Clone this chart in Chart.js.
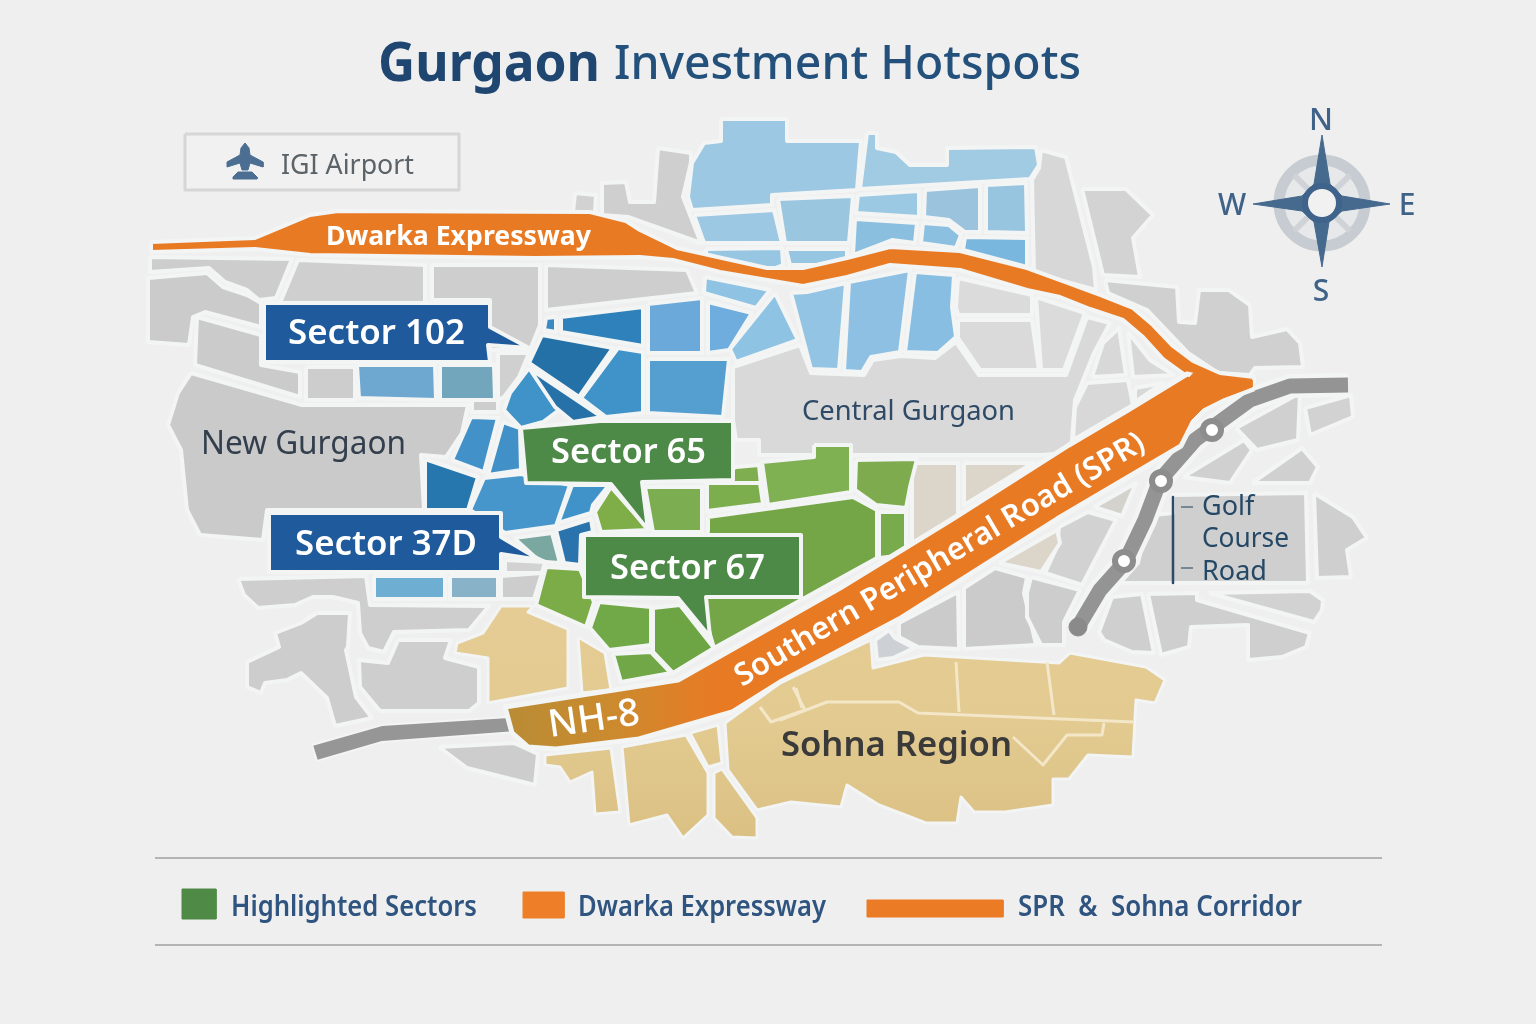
<!DOCTYPE html>
<html>
<head>
<meta charset="utf-8">
<title>Gurgaon Investment Hotspots</title>
<script src="https://cdn.jsdelivr.net/npm/chart.js@4"></script>
<style>
  html, body { margin: 0; padding: 0; background: #efefef; }
  canvas { display: block; }
</style>
</head>
<body>
<canvas id="mapChart" width="1536" height="1024"></canvas>
<script>
// map outlines, flat x,y lists
const greyBlocks = [
  [150,257,292,259,276,298,259,300,247,290,225,282,209,268,150,272],
  [148,278,207,273,223,287,247,295,261,303,261,327,205,312,193,317,189,345,148,342],
  [280,303,298,260,425,265,425,303],
  [432,265,540,265,540,325,530,350,490,350,490,300,432,300],
  [546,265,687,270,697,293,546,310],
  [197,317,261,335,261,365,300,372,300,397,195,365],
  [306,367,355,367,355,400,306,400],
  [191,373,302,405,468,405,462,433,446,457,421,455,424,510,267,510,263,540,200,535,187,510,181,450,168,425,178,393],
  [472,400,498,400,498,412,472,412],
  [498,353,529,353,519,377,504,397,498,400],
  [658,148,691,153,691,162,683,197,701,243,628,217,602,215,602,183,626,182,630,202,654,202],
  [575,193,596,195,595,213,573,212],
  [1041,150,1066,157,1094,267,1096,290,1034,273,1032,180,1039,168],
  [1082,189,1126,189,1153,215,1133,238,1140,277,1103,275],
  [1105,280,1177,287,1179,322,1195,323,1199,290,1229,290,1250,305,1252,337,1287,329,1300,343,1303,367,1255,368,1250,375,1218,373,1188,353,1147,310,1108,293],
  [958,278,1032,295,1032,315,958,315,956,307],
  [1036,297,1085,313,1064,370,1041,370],
  [958,320,1032,320,1039,370,980,370,958,338],
  [733,367,800,345,811,373,864,375,873,360,901,356,935,358,956,342,979,375,1066,375,1087,317,1110,323,1094,353,1075,400,1071,453,1041,455,759,455,759,440,736,440,733,420],
  [1092,377,1126,375,1119,328,1103,343],
  [1128,332,1150,360,1174,375,1133,377],
  [1087,383,1128,380,1133,405,1073,440,1075,407],
  [1135,388,1163,383,1135,402],
  [501,576,542,573,534,599,501,599],
  [505,560,545,562,542,573,505,573],
  [899,623,958,592,959,649,918,647,899,637],
  [964,588,995,568,1027,577,1024,593,1036,645,964,649],
  [1031,577,1080,590,1064,622,1064,645,1041,645,1027,617,1027,593],
  [1059,527,1088,512,1116,520,1082,585,1045,573,1057,547],
  [1094,507,1136,483,1122,516],
  [875,640,889,630,895,638,914,648,893,658,877,660],
  [1153,515,1173,513,1173,495,1306,493,1308,583,1120,583,1138,563,1146,527],
  [1314,493,1353,517,1367,538,1347,550,1351,577,1317,578],
  [1112,597,1142,594,1154,653,1132,652,1104,640,1099,632],
  [1148,594,1197,593,1197,600,1310,633,1306,647,1282,657,1248,660,1248,625,1191,627,1189,647,1161,655],
  [1209,593,1310,591,1323,600,1322,610,1314,622],
  [1305,408,1351,395,1353,417,1310,435],
  [1236,428,1300,393,1298,440,1257,450],
  [1183,477,1244,440,1252,450,1230,483],
  [1252,483,1302,448,1318,467,1310,483],
  [238,579,366,576,370,605,489,606,469,630,394,632,384,652,368,648,360,633,358,603,333,597,313,597,295,605,258,608,244,595],
  [317,613,350,613,348,647,346,650,356,697,372,718,335,726,327,698,301,673,287,680,265,683,261,693,247,687,247,662,279,647,275,633,301,623],
  [398,640,451,640,445,658,479,667,479,703,469,711,380,711,360,687,359,660,388,663],
  [439,747,514,743,538,754,535,785,467,768]
];
const greyShades = [
  '#cdcdcd','#cbcbcb','#cfcfcf','#cecece','#cecece','#cbcbcb','#cdcdcd','#cacaca','#cdcdcd','#d0d0d0',
  '#cfcfcf','#d2d2d2','#d7d7d7','#d3d3d3','#d0d0d0','#dbdbdb','#dbdbdb','#dadada','#d9d9d9','#d8d8d8',
  '#d8d8d8','#d8d8d8','#d8d8d8','#cdcdcd','#d2d2d2','#cbcbcb','#cbcbcb','#cdcdcd','#d2d2d2','#d4d2cd',
  '#cdd0d4','#cfcfcf','#cfcfcf','#cfcfcf','#cfcfcf','#d2d2d2','#d2d2d2','#d0d0d0','#d0d0d0','#d0d0d0',
  '#cecece','#cdcdcd','#cecece','#cdcdcd'
];
const paleTanBlocks = [
  [912,463,958,463,958,518,912,545],
  [964,463,1033,463,964,505],
  [999,563,1057,530,1060,543,1041,572]
];
const paleBlueBlocks = [
  [721,119,787,119,787,141,861,141,857,190,772,195,772,205,692,210,688,197,692,163,704,143,721,141],
  [867,133,877,133,877,148,896,152,910,165,947,165,947,148,1036,147,1039,165,1030,179,860,189],
  [778,199,853,196,849,243,785,243],
  [858,195,919,191,919,217,856,213],
  [925,190,980,186,980,232,965,232,949,220,924,217],
  [986,185,1026,183,1027,233,986,232],
  [694,215,774,210,782,243,704,243],
  [706,249,782,248,783,265,770,270,706,257],
  [786,249,847,249,847,258,818,265,790,265],
  [855,219,917,223,915,243,892,240,853,255],
  [923,223,949,225,961,235,956,248,921,243],
  [965,237,1027,238,1027,267,963,250],
  [705,277,770,290,756,308,704,293],
  [775,293,798,340,736,362,730,349],
  [791,293,807,292,846,283,839,370,811,369],
  [849,282,910,270,900,352,871,357,862,372,844,371],
  [915,272,954,275,952,307,956,337,938,353,905,352]
];
const paleBlueShades = [
  '#9cc8e3','#a0cbe3','#9bc6e0','#9bc8e2','#9bc3de','#97c5df','#9cc8e3','#97c6e2','#97c6e2','#8abfe0',
  '#8cc0e1','#7ab7de','#8fc3e4','#8fc3e4','#93c4e3','#8dc0e2','#88bee1'
];
const blueBlocks = [
  [357,365,435,365,436,400,359,398],
  [440,365,494,365,495,400,440,400],
  [546,318,556,317,556,332,544,330],
  [561,317,643,307,643,346,561,332],
  [648,304,702,298,702,353,648,353],
  [708,302,752,313,729,350,708,353],
  [542,335,613,348,579,397,529,363],
  [618,348,643,352,643,413,606,417,581,398],
  [648,359,729,359,723,417,648,413],
  [529,368,602,417,575,422,559,410,543,422,521,428,504,410,510,393],
  [529,368,602,417,573,422,555,407],
  [471,417,498,418,484,472,452,460],
  [503,422,520,428,521,470,488,475],
  [425,459,478,477,468,510,425,510],
  [484,478,521,474,570,485,556,526,505,533,470,510],
  [572,485,609,485,593,505,591,513,558,523],
  [556,530,591,519,593,532,581,535,580,565,564,563],
  [514,538,552,533,560,563,546,562,536,558],
  [374,576,445,576,445,599,374,599],
  [450,576,498,576,498,599,450,599]
];
const blueShades = [
  '#6ea8d0','#72a6bd','#3a8bc4','#2f81bb','#6aa9d9','#6fadde','#2471a8','#4093c9','#559fd0','#3f93c8',
  '#2672a8','#4292c9','#4191c8','#2677ad','#4696cb','#3f93c8','#2b73ad','#7aa7a0','#6eaed3','#88b2c8'
];
const greenBlocks = [
  [814,445,851,445,851,492,768,505,762,462,814,457],
  [856,460,917,459,910,487,906,508,876,505,855,490],
  [736,467,759,465,763,505,708,512,706,483],
  [708,517,853,497,877,510,877,558,714,648,700,600,708,530],
  [653,608,680,605,714,648,673,673,653,652],
  [879,512,906,512,906,555,879,558],
  [595,512,611,487,649,530,601,532],
  [645,487,702,487,702,532,653,532],
  [707,483,760,483,763,504,707,511],
  [546,567,580,569,594,602,586,627,536,605],
  [599,602,651,607,651,645,609,650,590,628],
  [613,654,651,652,671,673,621,682]
];
const greenShades = [
  '#7fb051','#7dab4e','#7fae50','#74a647','#6ea544','#77ab4c','#7fae48','#7cad50','#7dae4e','#7cac48',
  '#72a948','#71a746'
];
const sandBlocks = [
  [501,606,534,606,528,612,568,629,568,688,488,703,488,658,455,653,457,643,483,633],
  [578,637,605,653,611,690,582,693],
  [545,755,611,748,620,812,595,814,592,772,570,782,560,767,545,765],
  [622,747,686,735,708,773,708,815,683,838,667,815,629,825],
  [690,733,718,725,722,763,708,767],
  [714,773,722,769,757,818,757,838,732,837,714,818],
  [725,723,780,683,871,640,873,668,924,655,1059,663,1070,653,1146,667,1165,680,1155,703,1136,700,1133,757,1088,755,1069,779,1053,779,1053,805,1005,812,974,812,961,797,957,823,926,823,879,805,847,785,841,807,791,802,757,810,728,770]
];
const sandLines = [
  [780,720,827,702,899,702,918,713,1134,722],
  [956,662,959,712],
  [1047,662,1054,715],
  [796,688,802,708],
  [1104,723,1102,735,1067,735,1043,765,1013,737],
  [760,707,771,722,805,710],
  [793,687,805,710]
];

// roads
const nh8West = [312,745,382,725,509,717,516,732,382,742,317,761];
const golfCourseRoad = [1348,385,1290,386,1250,400,1195,440,1160,480,1145,520,1125,562,1100,590,1078,627];
const golfCourseStations = [1212,430,1161,481,1124,561];
const golfCourseEnd = [1078,627];
const dwarkaExpressway = [151,242,255,238,310,215,338,211,590,212,626,221,640,230,677,248,767,268,803,268,847,258,890,247,960,251,1027,268,1060,280,1100,295,1133,308,1153,325,1173,346,1193,361,1220,373,1254,377,1254,382,1188,377,1163,359,1143,337,1123,320,1090,309,1060,297,1027,290,960,270,890,265,847,277,803,286,720,272,673,260,640,257,535,258,310,255,255,249,151,252];
const southernPeripheral = [1254,389,1224,400,1204,410,1193,422,1181,446,1057,519,899,619,780,682,732,712,639,739,556,749,528,747,512,733,505,707,678,680,840,588,954,518,1069,445,1128,410,1187,374];
const junctionPatch = [1190,377,1197,369,1220,377,1252,380,1252,387,1223,398,1203,408,1191,420,1150,425,1170,395];

// callouts
const sectorCalloutsBlue = [
  [264,303,490,303,490,327,529,348,488,345,490,362,264,362],
  [269,513,501,513,501,537,540,560,501,554,501,572,269,572]
];
const sectorCalloutsGreen = [
  [521,428,600,421,733,421,733,480,642,482,648,530,611,484,526,483],
  [584,535,801,535,801,597,706,597,710,637,678,598,584,597]
];

// compass and airport
const compassStar = [1322,135,1330,184,1342,196,1390,204,1342,211,1329,222,1322,267,1314,222,1302,211,1253,204,1302,196,1314,184];
const compassHub = [1322,203];
const compassSpokes = [[1294,175,1350,231],[1350,175,1294,231]];
const airportBox = [185,134,459,134,459,190,185,190];
const airportPlane = [
  [245,143,249,148,250,155,263,162,263,167,250,163,248,170,242,170,240,163,227,167,227,162,240,155,241,148],
  [238,172,252,172,257,177,257,179,233,179,233,177]
];

// legend and rules
const legendRules = [[155,858,1382,858],[155,945,1382,945]];
const legendGreen = [182,889,216,889,216,919,182,919];
const legendOrange = [523,892,564,892,564,918,523,918];
const legendBar = [867,900,1003,900,1003,917,867,917];
const golfBracket = [[1173,497,1173,583],[1181,507,1193,507],[1181,568,1193,568]];

const pts = flat => {
  const out = [];
  for (let i = 0; i < flat.length; i += 2) out.push({ x: flat[i], y: flat[i + 1] });
  return out;
};
const datasets = [];
function addShape(flat, fillColor, edgeColor, edgeWidth) {
  const p = pts(flat);
  p.push(p[0]);
  datasets.push({
    data: p, showLine: true, fill: 'shape', backgroundColor: fillColor,
    borderColor: edgeColor, borderWidth: edgeWidth, borderJoinStyle: 'round',
    pointRadius: 0, clip: false
  });
}
function addLine(flat, color, width, cap) {
  datasets.push({
    data: pts(flat), showLine: true, fill: false, borderColor: color, borderWidth: width,
    borderCapStyle: cap || 'butt', borderJoinStyle: 'round', pointRadius: 0, clip: false
  });
}
function addDots(flat, fillColor, edgeColor, edgeWidth, radius) {
  datasets.push({
    data: pts(flat), showLine: false, backgroundColor: fillColor, borderColor: edgeColor,
    borderWidth: edgeWidth, pointRadius: radius, clip: false
  });
}
// gradient between two data positions, falls back while scales are not laid out yet
function gradient(x0, y0, x1, y1, stops) {
  return c => {
    const { ctx, scales } = c.chart;
    if (!scales.x || !scales.y) return stops[stops.length - 1];
    const a = [scales.x.getPixelForValue(x0), scales.y.getPixelForValue(y0), scales.x.getPixelForValue(x1), scales.y.getPixelForValue(y1)];
    if (!a.every(isFinite)) return stops[stops.length - 1];
    const g = ctx.createLinearGradient(a[0], a[1], a[2], a[3]);
    stops.forEach((s, i) => g.addColorStop(i / (stops.length - 1), s));
    return g;
  };
}

const EDGE = '#f3f4f4';
greyBlocks.forEach((b, i) => addShape(b, greyShades[i], EDGE, 4));
paleTanBlocks.forEach(b => addShape(b, '#dcd5c9', EDGE, 4));
sandBlocks.forEach(b => addShape(b, gradient(0, 610, 0, 840, ['#e4cc94', '#e2ca90', '#dbc083']), EDGE, 3));
sandLines.forEach(l => addLine(l, '#f3e7c8', 3));
paleBlueBlocks.forEach((b, i) => addShape(b, paleBlueShades[i], EDGE, 4));
blueBlocks.forEach((b, i) => addShape(b, blueShades[i], EDGE, 4));
greenBlocks.forEach((b, i) => addShape(b, greenShades[i], EDGE, 4));

addShape(nh8West, '#969696', EDGE, 2);
addLine(golfCourseRoad, EDGE, 24);
addLine(golfCourseRoad, '#949494', 15);
addDots(golfCourseEnd, '#8a8a8a', '#8a8a8a', 1, 9);
addDots(golfCourseStations, '#ffffff', '#8d8d8d', 6, 9);
addShape(dwarkaExpressway, '#e97a24', EDGE, 4);
// orange fades to tan towards the NH-8 end
addShape(southernPeripheral, gradient(507, 0, 720, 0, ['#b98c35', '#cc8a2e', '#e97a24']), EDGE, 5);
addShape(junctionPatch, '#e97a24', '#e97a24', 1);

sectorCalloutsBlue.forEach(b => addShape(b, '#1e5a9c', EDGE, 4));
sectorCalloutsGreen.forEach(b => addShape(b, '#4d8947', EDGE, 4));

addShape(airportBox, '#f1f1f1', '#d6d6d6', 3);
airportPlane.forEach(b => addShape(b, '#4b6e92', '#4b6e92', 1));

addDots(compassHub, '#e6e8ea', '#c6ccd1', 11, 43);
compassSpokes.forEach(l => addLine(l, '#cfd3d7', 6));
addShape(compassStar, '#46698e', '#46698e', 1);
addDots(compassHub, '#f1f1f1', '#3f638a', 6, 17);

legendRules.forEach(l => addLine(l, '#b4b4b4', 2));
addShape(legendGreen, '#4f8a47', '#4f8a47', 1);
addShape(legendOrange, '#ee7e28', '#ee7e28', 1);
addShape(legendBar, '#ec7b25', '#ec7b25', 1);
golfBracket.forEach((l, i) => addLine(l, i ? '#5b6f82' : '#2c4a66', i ? 1.5 : 2.5));

datasets.forEach((d, i) => { d.order = -i; });

// text
const FONT = '"Noto Sans", "Open Sans", sans-serif';
const mapLabels = ['IGI Airport', 'Dwarka Expressway', 'Central Gurgaon', 'New Gurgaon', 'Sohna Region', 'NH-8', 'Southern Peripheral Road (SPR)', 'Golf', 'Course', 'Road'];
const sectorLabels = ['Sector 102', 'Sector 65', 'Sector 37D', 'Sector 67'];
const compassLabels = ['N', 'E', 'S', 'W'];
const legendLabels = ['Highlighted Sectors', 'Dwarka Expressway', 'SPR  &  Sohna Corridor'];

const textMarks = [
  { t: 'Gurgaon', x: 378, y: 64, w: 222, font: '700 53px', color: '#1f4670', align: 'left' },
  { t: 'Investment Hotspots', x: 614, y: 64, w: 467, font: '500 47px', color: '#24507c', align: 'left' },
  { t: mapLabels[0], x: 281, y: 164, w: 133, font: '400 27px', color: '#5b6368', align: 'left' },
  { t: mapLabels[1], x: 326, y: 235, w: 265, font: '700 27px', color: '#ffffff', align: 'left' },
  { t: mapLabels[2], x: 802, y: 410, w: 213, font: '400 27.5px', color: '#2f4a66', align: 'left' },
  { t: mapLabels[3], x: 201, y: 443, w: 205, font: '400 32px', color: '#333f4d', align: 'left' },
  { t: mapLabels[4], x: 781, y: 744, w: 231, font: '600 35px', color: '#3a3a3a', align: 'left' },
  { t: mapLabels[5], x: 594, y: 718, w: 92, font: '500 38px', color: '#ffffff', align: 'center', rot: -8 },
  { t: mapLabels[6], x: 940, y: 558, w: 470, font: '600 31px', color: '#ffffff', align: 'center', rot: -30.5 },
  { t: mapLabels[7], x: 1202, y: 505, w: 54, font: '400 27px', color: '#244866', align: 'left' },
  { t: mapLabels[8], x: 1202, y: 537, w: 87, font: '400 27px', color: '#244866', align: 'left' },
  { t: mapLabels[9], x: 1202, y: 570, w: 65, font: '400 27px', color: '#244866', align: 'left' },
  { t: sectorLabels[0], x: 288, y: 332, w: 177, font: '600 35px', color: '#ffffff', align: 'left' },
  { t: sectorLabels[1], x: 551, y: 451, w: 155, font: '600 35px', color: '#ffffff', align: 'left' },
  { t: sectorLabels[2], x: 295, y: 543, w: 182, font: '600 35px', color: '#ffffff', align: 'left' },
  { t: sectorLabels[3], x: 610, y: 567, w: 155, font: '600 35px', color: '#ffffff', align: 'left' },
  { t: compassLabels[0], x: 1321, y: 119, w: 24, font: '500 31px', color: '#3f6288', align: 'center' },
  { t: compassLabels[1], x: 1407, y: 204, w: 18, font: '500 30px', color: '#3f6288', align: 'center' },
  { t: compassLabels[2], x: 1321, y: 290, w: 18, font: '500 30px', color: '#3f6288', align: 'center' },
  { t: compassLabels[3], x: 1232, y: 204, w: 30, font: '500 30px', color: '#3f6288', align: 'center' },
  { t: legendLabels[0], x: 231, y: 906, w: 246, font: '600 29px', color: '#2f5480', align: 'left' },
  { t: legendLabels[1], x: 578, y: 906, w: 248, font: '600 29px', color: '#2f5480', align: 'left' },
  { t: legendLabels[2], x: 1018, y: 906, w: 284, font: '600 29px', color: '#2f5480', align: 'left' }
];

const textPlugin = {
  id: 'textMarks',
  afterDatasetsDraw(chart) {
    const { ctx, scales } = chart;
    textMarks.forEach(m => {
      ctx.save();
      ctx.translate(scales.x.getPixelForValue(m.x), scales.y.getPixelForValue(m.y + 2));
      if (m.rot) ctx.rotate(m.rot * Math.PI / 180);
      ctx.font = m.font + ' ' + FONT;
      ctx.fillStyle = m.color;
      ctx.textAlign = m.align;
      ctx.textBaseline = 'middle';
      ctx.fillText(m.t, 0, 0, m.w);
      ctx.restore();
    });
  }
};

new Chart(document.getElementById('mapChart'), {
  type: 'scatter',
  data: { datasets: datasets },
  plugins: [textPlugin],
  options: {
    responsive: false,
    animation: false,
    layout: { padding: 0, autoPadding: false },
    scales: {
      x: { type: 'linear', min: 0, max: 1536, display: false },
      y: { type: 'linear', min: 0, max: 1024, reverse: true, display: false }
    },
    plugins: { legend: { display: false }, tooltip: { enabled: false } }
  }
});
</script>
</body>
</html>
